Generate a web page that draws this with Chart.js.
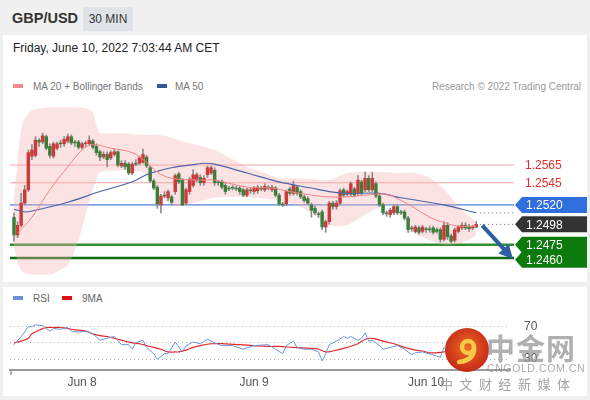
<!DOCTYPE html>
<html>
<head>
<meta charset="utf-8">
<script src="https://cdn.jsdelivr.net/npm/chart.js@4.4.1/dist/chart.umd.min.js"></script>
<style>
  body { margin: 0; width: 590px; height: 400px; background: #f0f0f0; position: relative; overflow: hidden;
         font-family: "Liberation Sans", Arial, sans-serif; }
  .abs { position: absolute; }
  .panel { position: absolute; background: #fff; }
  .sw { position: absolute; width: 10px; height: 4px; }
  .lg { position: absolute; font-size: 10px; color: #777; line-height: 13px; }
</style>
</head>
<body>
<div class="panel" style="left:3px;top:35px;width:584px;height:247px"></div>
<div class="panel" style="left:3px;top:287px;width:584px;height:109px"></div>

<div class="abs" style="left:12px;top:10px;font-size:14.5px;font-weight:bold;color:#333">GBP/USD</div>
<div class="abs" style="left:83px;top:7px;width:50px;height:24px;background:#dfe3e8;font-size:12px;color:#333;line-height:24px;text-align:center">30 MIN</div>
<div class="abs" style="left:13px;top:41px;font-size:12px;color:#222">Friday, June 10, 2022 7:03:44 AM CET</div>

<div class="sw" style="left:13px;top:84px;background:#f28b8b"></div>
<div class="lg" style="left:33px;top:80px">MA 20 + Bollinger Bands</div>
<div class="sw" style="left:157px;top:84px;background:#34559a"></div>
<div class="lg" style="left:175px;top:80px">MA 50</div>
<div class="lg" style="right:9px;top:80px;color:#9a9a9a">Research © 2022 Trading Central</div>

<div class="sw" style="left:13px;top:296px;background:#6d8fdc"></div>
<div class="lg" style="left:33px;top:292px;color:#666">RSI</div>
<div class="sw" style="left:62px;top:296px;background:#e01010"></div>
<div class="lg" style="left:82px;top:292px;color:#666">9MA</div>

<canvas id="priceChart" class="abs" style="left:0;top:100px" width="590" height="180"></canvas>
<canvas id="rsiChart" class="abs" style="left:0;top:290px" width="590" height="110"></canvas>

<!-- watermark -->
<svg class="abs" style="left:445px;top:328px" width="44" height="44" viewBox="0 0 44 44">
  <defs><radialGradient id="g" cx="50%" cy="45%" r="55%"><stop offset="0" stop-color="#ef6a22"/><stop offset="1" stop-color="#c42a18"/></radialGradient></defs>
  <circle cx="22" cy="22" r="22" fill="url(#g)"/>
  <circle cx="23" cy="19" r="6" fill="none" stroke="#f7c948" stroke-width="4.5"/>
  <path d="M29 19 C29.5 28 24 33 14 34" fill="none" stroke="#f7c948" stroke-width="4.5" stroke-linecap="round"/>
</svg>
<div class="abs" style="left:486px;top:330px;font-family:'Noto Sans CJK SC';font-weight:bold;font-size:29px;line-height:34px;color:rgba(150,150,150,0.75);letter-spacing:1px">中金网</div>
<div class="abs" style="left:487px;top:362px;font-size:10.5px;color:rgba(150,150,150,0.8);letter-spacing:0.6px">CNGOLD.COM.CN</div>
<div class="abs" style="left:440px;top:374px;font-family:'Noto Sans CJK SC';font-size:13px;color:rgba(140,140,140,0.8);letter-spacing:6.5px">中文财经新媒体</div>

<script>
// GBP/USD 30 min candles, index 0 = Jun 7 14:30, index 129 = Jun 10 07:00
const opens = [1.2506,1.2486,1.2497,1.2522,1.2537,1.2575,1.2576,1.2593,1.2591,1.2597,
  1.2586,1.2575,1.2584,1.2590,1.2589,1.2592,1.2597,1.2591,1.2591,1.2585,
  1.2589,1.2589,1.2592,1.2586,1.2580,1.2574,1.2577,1.2573,1.2577,1.2580,
  1.2564,1.2567,1.2566,1.2556,1.2567,1.2567,1.2568,1.2574,1.2562,1.2547,
  1.2540,1.2520,1.2531,1.2528,1.2529,1.2535,1.2555,1.2548,1.2522,1.2535,
  1.2542,1.2548,1.2551,1.2545,1.2554,1.2556,1.2559,1.2546,1.2546,1.2542,
  1.2539,1.2540,1.2539,1.2539,1.2537,1.2531,1.2537,1.2535,1.2536,1.2539,
  1.2537,1.2540,1.2537,1.2539,1.2531,1.2521,1.2521,1.2538,1.2533,1.2540,
  1.2535,1.2529,1.2527,1.2520,1.2516,1.2510,1.2512,1.2495,1.2501,1.2522,
  1.2518,1.2522,1.2537,1.2532,1.2532,1.2538,1.2533,1.2546,1.2537,1.2550,
  1.2537,1.2544,1.2530,1.2520,1.2511,1.2509,1.2511,1.2518,1.2512,1.2512,
  1.2505,1.2494,1.2490,1.2494,1.2490,1.2493,1.2493,1.2494,1.2492,1.2492,
  1.2481,1.2497,1.2485,1.2480,1.2490,1.2494,1.2497,1.2495,1.2494,1.2495];
const highs = [1.2511,1.2501,1.2533,1.2542,1.2582,1.2588,1.2597,1.2595,1.2601,1.2599,
  1.2589,1.2591,1.2591,1.2593,1.2597,1.2600,1.2599,1.2593,1.2593,1.2591,
  1.2592,1.2598,1.2594,1.2589,1.2582,1.2580,1.2580,1.2581,1.2583,1.2581,
  1.2570,1.2570,1.2568,1.2568,1.2571,1.2575,1.2583,1.2576,1.2564,1.2549,
  1.2542,1.2532,1.2535,1.2537,1.2531,1.2555,1.2557,1.2550,1.2539,1.2551,
  1.2560,1.2556,1.2554,1.2553,1.2564,1.2564,1.2562,1.2548,1.2548,1.2545,
  1.2541,1.2542,1.2541,1.2541,1.2539,1.2539,1.2539,1.2541,1.2542,1.2541,
  1.2544,1.2542,1.2542,1.2541,1.2533,1.2523,1.2537,1.2540,1.2547,1.2542,
  1.2537,1.2531,1.2529,1.2522,1.2519,1.2512,1.2514,1.2503,1.2524,1.2524,
  1.2525,1.2538,1.2539,1.2537,1.2546,1.2540,1.2553,1.2548,1.2557,1.2553,
  1.2557,1.2546,1.2532,1.2522,1.2513,1.2516,1.2520,1.2520,1.2514,1.2514,
  1.2507,1.2496,1.2497,1.2496,1.2497,1.2495,1.2496,1.2496,1.2494,1.2494,
  1.2501,1.2500,1.2487,1.2494,1.2497,1.2500,1.2500,1.2498,1.2497,1.2501];
const lows = [1.2479,1.2483,1.2495,1.2520,1.2535,1.2571,1.2574,1.2586,1.2589,1.2582,
  1.2573,1.2573,1.2582,1.2585,1.2586,1.2590,1.2588,1.2586,1.2583,1.2583,
  1.2586,1.2588,1.2583,1.2576,1.2570,1.2572,1.2563,1.2571,1.2575,1.2563,
  1.2562,1.2560,1.2554,1.2554,1.2564,1.2565,1.2567,1.2562,1.2545,1.2537,
  1.2516,1.2511,1.2528,1.2525,1.2520,1.2532,1.2544,1.2519,1.2520,1.2532,
  1.2540,1.2546,1.2542,1.2542,1.2551,1.2554,1.2542,1.2542,1.2538,1.2532,
  1.2536,1.2537,1.2536,1.2532,1.2529,1.2529,1.2533,1.2532,1.2533,1.2536,
  1.2535,1.2537,1.2535,1.2529,1.2519,1.2518,1.2519,1.2531,1.2531,1.2531,
  1.2527,1.2523,1.2520,1.2506,1.2509,1.2506,1.2492,1.2489,1.2498,1.2515,
  1.2515,1.2520,1.2529,1.2530,1.2530,1.2529,1.2531,1.2531,1.2535,1.2535,
  1.2535,1.2528,1.2518,1.2509,1.2507,1.2506,1.2509,1.2509,1.2509,1.2503,
  1.2489,1.2490,1.2488,1.2487,1.2488,1.2489,1.2489,1.2487,1.2488,1.2478,
  1.2479,1.2481,1.2477,1.2478,1.2488,1.2492,1.2492,1.2490,1.2492,1.2494];
const closes = [1.2486,1.2497,1.2522,1.2537,1.2579,1.2582,1.2593,1.2591,1.2598,1.2584,
  1.2576,1.2589,1.2589,1.2589,1.2594,1.2597,1.2590,1.2590,1.2585,1.2589,
  1.2590,1.2593,1.2585,1.2579,1.2574,1.2577,1.2571,1.2579,1.2580,1.2565,
  1.2567,1.2563,1.2556,1.2566,1.2566,1.2573,1.2577,1.2564,1.2547,1.2539,
  1.2521,1.2530,1.2530,1.2535,1.2523,1.2553,1.2546,1.2520,1.2537,1.2549,
  1.2554,1.2554,1.2545,1.2550,1.2562,1.2562,1.2545,1.2545,1.2540,1.2535,
  1.2538,1.2539,1.2538,1.2535,1.2531,1.2537,1.2536,1.2539,1.2540,1.2538,
  1.2541,1.2539,1.2540,1.2531,1.2521,1.2520,1.2535,1.2533,1.2542,1.2533,
  1.2529,1.2525,1.2522,1.2514,1.2511,1.2509,1.2495,1.2501,1.2522,1.2518,
  1.2522,1.2536,1.2531,1.2535,1.2544,1.2531,1.2548,1.2533,1.2550,1.2537,
  1.2550,1.2530,1.2520,1.2511,1.2510,1.2514,1.2518,1.2511,1.2511,1.2505,
  1.2492,1.2493,1.2495,1.2489,1.2495,1.2492,1.2492,1.2489,1.2490,1.2481,
  1.2497,1.2484,1.2479,1.2492,1.2495,1.2497,1.2494,1.2493,1.2495,1.2498];

// indicator lines, read at sample candles
const ma20Idx = [1,5,10,15,19,22,27,33,37,40,44,52,56,65,72,77,83,88,93,98,104,108,112,116,120,124,129];
const ma20Val = [1.2488,1.2506,1.2537,1.2563,1.2582,1.2588,1.2584,1.2579,1.2568,1.2557,1.2550,1.2548,1.2548,1.2540,1.2539,1.2535,1.2531,1.2529,1.2529,1.2531,1.2532,1.2525,1.2516,1.2506,1.2500,1.2496,1.2496];
const ma50Idx = [0,3,5,15,24,33,37,40,44,51,53,56,65,74,83,88,93,102,108,120,129];
const ma50Val = [1.2515,1.2512,1.2513,1.2523,1.2535,1.2546,1.2554,1.2558,1.2562,1.2566,1.2567,1.2566,1.2556,1.2546,1.2539,1.2535,1.2533,1.2533,1.2528,1.2520,1.2511];
const bbIdx = [0,1,2,3,5,10,15,18,20,22,23,24,30,36,38,41,44,46,56,65,70,74,80,83,88,93,98,103,107,112,116,120,125,129];
const bbUpper = [1.2525,1.2571,1.2604,1.2618,1.2627,1.2630,1.2630,1.2630,1.2629,1.2625,1.2610,1.2601,1.2601,1.2599,1.2599,1.2599,1.2596,1.2593,1.2582,1.2563,1.2556,1.2550,1.2550,1.2549,1.2548,1.2556,1.2557,1.2557,1.2556,1.2556,1.2551,1.2538,1.2514,1.2501];
const bbLower = [1.2475,1.2455,1.2446,1.2443,1.2441,1.2441,1.2452,1.2480,1.2509,1.2537,1.2548,1.2557,1.2559,1.2557,1.2548,1.2529,1.2520,1.2518,1.2528,1.2529,1.2527,1.2525,1.2518,1.2511,1.2497,1.2497,1.2509,1.2519,1.2518,1.2488,1.2480,1.2475,1.2477,1.2485];

const rsiIdx = [0,2,3,4,5,6,8,10,11,13,15,16,18,20,22,24,26,28,30,32,33,34,36,37,39,40,42,43,45,47,48,50,52,54,56,58,61,64,67,71,73,75,76,78,79,81,83,85,86,87,88,90,92,93,94,96,97,98,99,100,102,103,105,107,109,111,112,114,116,119,120,122,124,126,129];
const rsiVal = [47.8,57.8,63.3,70,70,72.2,71.1,64.4,67.8,66.7,68.9,64.4,63.3,64.4,61.1,53.3,55.6,57.8,47.8,47.8,42.2,50,53.3,44.4,36.7,30,36.7,36.7,51.1,38.9,46.7,51.1,48.9,54.4,50,46.7,46.7,42.2,46.7,47.8,42.2,36.7,46.7,52.2,44.4,42.2,42.2,38.9,27.8,36.7,47.8,52.2,57.8,55.6,57.8,53.3,55.6,62.2,52.2,53.3,46.7,42.2,44.4,46.7,42.2,35.6,37.8,38.9,36.7,32.2,44.4,36.7,43.3,42.2,45.6];
const ma9Idx = [0,2,4,5,7,9,11,13,15,16,18,20,22,24,26,28,30,32,33,35,37,39,41,43,45,46,48,50,52,55,59,63,67,71,74,78,83,85,87,89,93,96,98,100,103,106,109,112,114,116,120,124,129];
const ma9Val = [50,52.2,55.6,61.1,65.6,68.9,68.9,68.9,67.8,66.7,65.6,64.4,61.1,58.9,57.8,55.6,53.3,51.1,50,48.9,46.7,44.4,42.2,38.9,38.9,38.9,41.1,44.4,46.7,48.9,48.9,47.8,46.7,45.6,45.6,44.4,43.3,42.2,38.9,40,44.4,48.9,54.4,55.6,52.2,48.9,44.4,41.1,40,37.8,38.9,41.1,42.2];

// key levels
const resistLevels = [1.2565, 1.2545];
const pivotLevel = 1.2520;
const lastPrice = 1.2498;
const supportLevels = [1.2475, 1.2460];
const rsiTicks = [30, 50, 70];
const dayTicks = [19, 67, 115];
const dayLabels = ['Jun 8', 'Jun 9', 'Jun 10'];

const xMin = -1.116, xMax = 138.43;
const pts = (idx, vals) => idx.map((i, k) => ({x: i, y: vals[k]}));

const UP = '#cc3b3b', DOWN = '#3d7d3a';
const bodies = closes.map((c, i) => ({x: i, y: [opens[i], c]}));
const wicks = highs.map((h, i) => ({x: i, y: [lows[i], h]}));

function hLine(ctx, x1, x2, y, color, w, dash) {
    ctx.save();
    ctx.beginPath();
    ctx.strokeStyle = color;
    ctx.lineWidth = w;
    ctx.setLineDash(dash || []);
    ctx.moveTo(x1, y);
    ctx.lineTo(x2, y);
    ctx.stroke();
    ctx.restore();
}

function tag(ctx, x, y, text, color) {
    ctx.save();
    ctx.fillStyle = color;
    ctx.beginPath();
    ctx.moveTo(x, y);
    ctx.lineTo(x + 7, y - 8);
    ctx.lineTo(x + 72, y - 8);
    ctx.lineTo(x + 72, y + 8);
    ctx.lineTo(x + 7, y + 8);
    ctx.closePath();
    ctx.fill();
    ctx.fillStyle = '#fff';
    ctx.font = '12px "Liberation Sans", Arial';
    ctx.textBaseline = 'middle';
    ctx.fillText(text, x + 11, y + 1);
    ctx.restore();
}

const levelsPlugin = {
    id: 'levels',
    beforeDatasetsDraw(chart) {
        const {ctx, chartArea: a, scales: {y}} = chart;
        resistLevels.forEach(v => hLine(ctx, a.left, a.right + 4, y.getPixelForValue(v), '#f3a3a3', 1));
        hLine(ctx, a.left, a.right + 4, y.getPixelForValue(pivotLevel), '#4f80e0', 1.2);
        hLine(ctx, a.left, a.right + 4, y.getPixelForValue(supportLevels[0]), '#2f8f2f', 2.5);
        hLine(ctx, a.left, a.right + 4, y.getPixelForValue(supportLevels[1]), '#0f6b12', 2.5);
    },
    afterDatasetsDraw(chart) {
        const {ctx, chartArea: a, scales: {x, y}} = chart;
        const lastX = x.getPixelForValue(closes.length - 1);
        hLine(ctx, lastX + 4, a.right + 4, y.getPixelForValue(lastPrice), '#555', 1, [1, 3]);
        hLine(ctx, lastX + 4, a.right + 4, y.getPixelForValue(ma50Val[ma50Val.length - 1]), '#777', 1, [1, 3]);

        // arrow towards the lower support
        const x0 = lastX + 6, y0 = y.getPixelForValue(lastPrice) + 1;
        const x1 = a.right + 3, y1 = y.getPixelForValue(supportLevels[1]) + 1;
        const ang = Math.atan2(y1 - y0, x1 - x0);
        ctx.save();
        ctx.strokeStyle = '#2c5fa3';
        ctx.fillStyle = '#2c5fa3';
        ctx.lineWidth = 4;
        ctx.beginPath();
        ctx.moveTo(x0, y0);
        ctx.lineTo(x1 - 10 * Math.cos(ang), y1 - 10 * Math.sin(ang));
        ctx.stroke();
        ctx.beginPath();
        ctx.moveTo(x1, y1);
        ctx.lineTo(x1 - 14 * Math.cos(ang) + 7 * Math.sin(ang), y1 - 14 * Math.sin(ang) - 7 * Math.cos(ang));
        ctx.lineTo(x1 - 14 * Math.cos(ang) - 7 * Math.sin(ang), y1 - 14 * Math.sin(ang) + 7 * Math.cos(ang));
        ctx.closePath();
        ctx.fill();
        ctx.restore();

        // resistance labels
        ctx.save();
        ctx.fillStyle = '#e0302c';
        ctx.font = '12px "Liberation Sans", Arial';
        ctx.textBaseline = 'middle';
        resistLevels.forEach(v => ctx.fillText(v.toFixed(4), a.right + 15, y.getPixelForValue(v) + 1));
        ctx.restore();

        const tx = a.right + 5;
        tag(ctx, tx, y.getPixelForValue(pivotLevel), pivotLevel.toFixed(4), '#2f6fe0');
        tag(ctx, tx, y.getPixelForValue(lastPrice), lastPrice.toFixed(4), '#333333');
        let prev = -100;
        supportLevels.forEach(v => {
            const py = Math.max(y.getPixelForValue(v), prev + 15);
            tag(ctx, tx, py, v.toFixed(4), '#0d7a0d');
            prev = py;
        });
    }
};

new Chart(document.getElementById('priceChart'), {
    type: 'bar',
    data: {
        datasets: [
            {type: 'line', data: pts(ma20Idx, ma20Val), borderColor: '#f08585', borderWidth: 1, pointRadius: 0, tension: 0.35, order: 1},
            {type: 'line', data: pts(ma50Idx, ma50Val), borderColor: '#4a64a6', borderWidth: 1.1, pointRadius: 0, tension: 0.35, order: 2},
            {data: bodies, backgroundColor: ctx => closes[ctx.dataIndex] > opens[ctx.dataIndex] ? UP : DOWN,
             barThickness: 2.8, grouped: false, order: 4},
            {data: wicks, backgroundColor: '#8c8c8c', barThickness: 1, grouped: false, order: 5},
            {type: 'line', data: pts(bbIdx, bbUpper), borderWidth: 0, pointRadius: 0, tension: 0.2,
             fill: '+1', backgroundColor: 'rgba(248,178,178,0.36)', order: 10},
            {type: 'line', data: pts(bbIdx, bbLower), borderWidth: 0, pointRadius: 0, tension: 0.2, fill: false, order: 11}
        ]
    },
    options: {
        responsive: false,
        animation: false,
        events: [],
        layout: {padding: {left: 10, right: 80, top: 5, bottom: 5}},
        plugins: {legend: {display: false}, tooltip: {enabled: false}},
        scales: {
            x: {type: 'linear', min: xMin, max: xMax, offset: false, display: false},
            y: {min: 1.24408, max: 1.26328, display: false}
        }
    },
    plugins: [levelsPlugin]
});

const axisTickPlugin = {
    id: 'axisTick',
    afterDraw(chart) {
        const {ctx, chartArea: a} = chart;
        ctx.save();
        ctx.strokeStyle = '#999';
        ctx.lineWidth = 1.5;
        ctx.beginPath();
        ctx.moveTo(a.left + 1, a.bottom);
        ctx.lineTo(a.left + 1, a.bottom + 5);
        ctx.stroke();
        ctx.restore();
    }
};

new Chart(document.getElementById('rsiChart'), {
    type: 'line',
    data: {
        datasets: [
            {data: pts(rsiIdx, rsiVal), borderColor: '#7094e0', borderWidth: 1, pointRadius: 0, tension: 0},
            {data: pts(ma9Idx, ma9Val), borderColor: '#e02b2b', borderWidth: 1.2, pointRadius: 0, tension: 0.4}
        ]
    },
    options: {
        responsive: false,
        animation: false,
        events: [],
        layout: {padding: {left: 10, right: 0, top: 15, bottom: 0}},
        plugins: {legend: {display: false}, tooltip: {enabled: false}},
        scales: {
            x: {
                type: 'linear', min: xMin, max: xMax, offset: false,
                afterBuildTicks: axis => { axis.ticks = dayTicks.map(v => ({value: v})); },
                afterFit: scale => { scale.height = 30; },
                grid: {display: false, drawTicks: false},
                border: {display: true, color: '#9a9a9a', width: 2},
                ticks: {autoSkip: false, maxRotation: 0, padding: 5, color: '#555',
                        font: {family: '"Liberation Sans", Arial', size: 12},
                        callback: v => dayLabels[dayTicks.indexOf(v)]}
            },
            y: {
                position: 'right', min: 16.7, max: 88.9,
                afterBuildTicks: axis => { axis.ticks = rsiTicks.map(v => ({value: v})); },
                afterFit: scale => { scale.width = 80; },
                grid: {color: '#b5b5b5', drawTicks: false},
                border: {display: false, dash: [1, 3]},
                ticks: {padding: 14, color: '#555', font: {family: '"Liberation Sans", Arial', size: 12},
                        callback: v => (v === 50 ? '' : String(v))}
            }
        }
    },
    plugins: [axisTickPlugin]
});
</script>
</body>
</html>
